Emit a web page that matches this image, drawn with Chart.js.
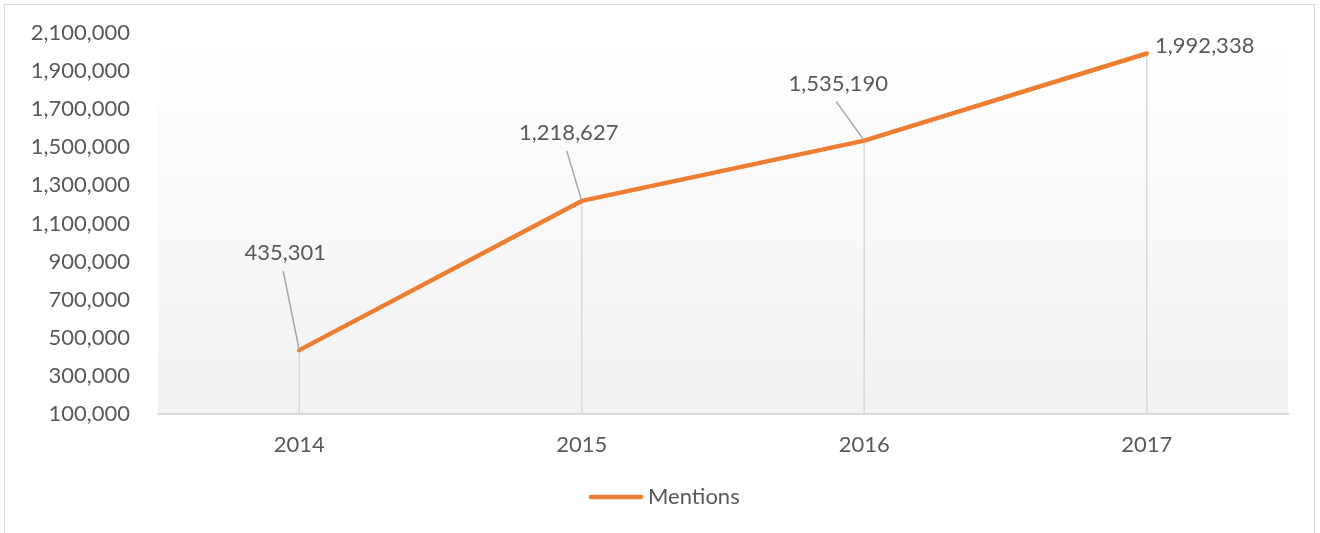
<!DOCTYPE html>
<html>
<head>
<meta charset="utf-8">
<script src="https://cdn.jsdelivr.net/npm/chart.js@4.4.1/dist/chart.umd.min.js"></script>
<style>
  html, body { margin: 0; padding: 0; background: #ffffff; }
  #wrap { position: relative; width: 1320px; height: 533px; }
  #frame { position: absolute; left: 4px; top: 4px; width: 1309px; height: 540px; border: 1px solid #d9d9d9; pointer-events: none; }
</style>
</head>
<body>
<div id="wrap">
  <canvas id="myChart" width="1320" height="533"></canvas>
  <div id="frame"></div>
</div>
<script>
const years = ['2014', '2015', '2016', '2017'];
const mentions = [435301, 1218627, 1535190, 1992338];
const seriesName = 'Mentions';
// label placement relative to each point (px): [dx, dy, leader line?]
const labelOffsets = [[-14, -97, true], [-13, -68, true], [-26, -57, true], [58, -8, false]];

const textColor = '#595959';
const lineColor = '#ed7d31';
const fontFamily = 'Lato, "Open Sans", sans-serif';

const plotExtras = {
    id: 'plotExtras',
    beforeDraw(chart) {
        const { ctx, chartArea: a } = chart;
        const g = ctx.createLinearGradient(0, a.top, 0, a.bottom);
        g.addColorStop(0, '#ffffff');
        g.addColorStop(1, '#f2f2f2');
        ctx.save();
        ctx.fillStyle = g;
        ctx.fillRect(a.left, a.top, a.right - a.left, a.bottom - a.top);
        ctx.restore();
    },
    beforeDatasetsDraw(chart) {
        // drop lines from each point to the axis
        const { ctx, chartArea: a } = chart;
        const meta = chart.getDatasetMeta(0);
        ctx.save();
        ctx.strokeStyle = '#d9d9d9';
        ctx.lineWidth = 1.5;
        meta.data.forEach(p => {
            ctx.beginPath();
            ctx.moveTo(p.x, p.y);
            ctx.lineTo(p.x, a.bottom);
            ctx.stroke();
        });
        ctx.restore();
    },
    afterDatasetsDraw(chart) {
        const { ctx } = chart;
        const meta = chart.getDatasetMeta(0);
        ctx.save();
        ctx.font = '22px ' + fontFamily;
        ctx.fillStyle = textColor;
        ctx.textAlign = 'center';
        ctx.textBaseline = 'middle';
        meta.data.forEach((p, i) => {
            const [dx, dy, leader] = labelOffsets[i];
            const lx = p.x + dx, ly = p.y + dy;
            if (leader) {
                ctx.strokeStyle = '#a6a6a6';
                ctx.lineWidth = 1.5;
                ctx.beginPath();
                ctx.moveTo(p.x, p.y);
                ctx.lineTo(lx - 2, ly + 18);
                ctx.stroke();
            }
            ctx.fillText(mentions[i].toLocaleString('en-US'), lx, ly);
        });

        // legend
        const cx = chart.width / 2 + 5, cy = 497;
        ctx.strokeStyle = lineColor;
        ctx.lineWidth = 4.5;
        ctx.lineCap = 'round';
        ctx.beginPath();
        ctx.moveTo(cx - 74, cy);
        ctx.lineTo(cx - 24, cy);
        ctx.stroke();
        ctx.textAlign = 'left';
        ctx.fillText(seriesName, cx - 17, cy);
        ctx.restore();
    }
};

const ctx = document.getElementById('myChart').getContext('2d');
const myChart = new Chart(ctx, {
    type: 'line',
    data: {
        labels: years,
        datasets: [{
            label: seriesName,
            data: mentions,
            borderColor: lineColor,
            backgroundColor: lineColor,
            borderWidth: 4.5,
            borderCapStyle: 'round',
            borderJoinStyle: 'round',
            pointRadius: 0,
            tension: 0
        }]
    },
    options: {
        responsive: false,
        animation: false,
        layout: {
            padding: { top: 33, right: 32, left: 0, bottom: 57 }
        },
        scales: {
            y: {
                min: 100000,
                max: 2100000,
                afterFit(scale) {
                    scale.width = 158;
                    scale.paddingTop = 0;
                    scale.paddingBottom = 0;
                },
                grid: { display: false },
                border: { display: false },
                ticks: {
                    stepSize: 200000,
                    padding: 20,
                    color: textColor,
                    font: { family: fontFamily, size: 22 },
                    callback: v => v.toLocaleString('en-US')
                }
            },
            x: {
                offset: true,
                afterFit(scale) { scale.height = 62; },
                grid: { display: false },
                border: { display: true, color: '#d9d9d9', width: 2 },
                ticks: {
                    padding: 10,
                    color: textColor,
                    font: { family: fontFamily, size: 22 }
                }
            }
        },
        plugins: {
            legend: { display: false },
            tooltip: { enabled: false }
        }
    },
    plugins: [plotExtras]
});
</script>
</body>
</html>
